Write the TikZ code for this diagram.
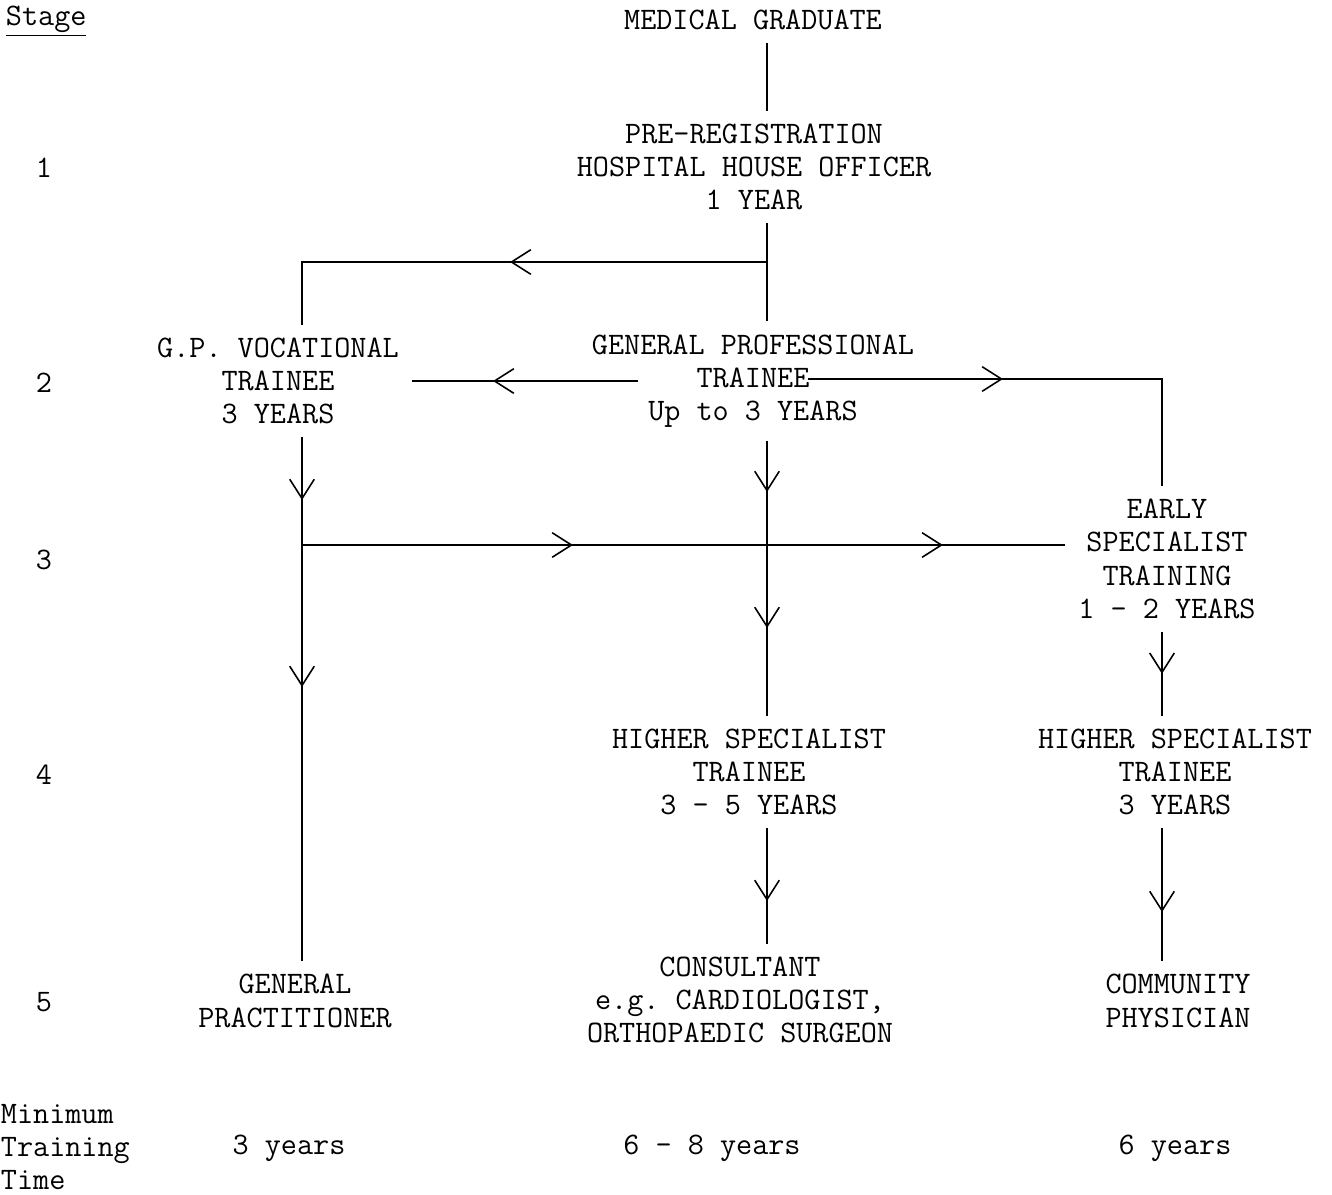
\documentclass[tikz,border=0pt]{standalone}
\usepackage{tikz}
\usetikzlibrary{arrows.meta, positioning, calc, decorations.markings}

\begin{document}
\begin{tikzpicture}[x=0.02cm, y=-0.02cm, line width=1.1pt,
    >={Straight Barb[length=11pt, width=14pt, line width=0.9pt]},
    every node/.style={font=\fontsize{17.8}{18.9}\selectfont\ttfamily, inner sep=0pt},
    stagebox/.style={align=center, inner sep=7pt},
    midarrow/.style={postaction={decorate, decoration={markings,
        mark=at position #1 with {\arrow{>}}}}}]
  \useasboundingbox (0,0) rectangle (1332,1194);
  % stage column
  \node[anchor=west] (stagehd) at (5,21) {\underline{Stage}};
  \node (st1) at (44,168) {1};
  \node (st2) at (44,383) {2};
  \node (st3) at (44,560) {3};
  \node (st4) at (44,775) {4};
  \node (st5) at (44,1002) {5};
  \node[anchor=west, align=left] (mintime) at (0,1147)
    {Minimum\\Training\\Time};
  \node (tgp) at (289,1148) {3 years};
  \node (tcons) at (712,1148) {6 - 8 years};
  \node (tcomm) at (1175,1148) {6 years};

  % career stages
  \node[stagebox] (grad) at (753,20) {MEDICAL GRADUATE};
  \node[stagebox] (preg) at (754,167)
    {PRE-REGISTRATION\\HOSPITAL HOUSE OFFICER\\1 YEAR};
  \node[stagebox] (gpvt) at (278,381) {G.P. VOCATIONAL\\TRAINEE\\3 YEARS};
  \node[stagebox] (gpt) at (753,381)
    {GENERAL PROFESSIONAL\\TRAINEE\\Up to 3 YEARS};
  \node[stagebox] (est) at (1167,559)
    {EARLY\\SPECIALIST\\TRAINING\\1 - 2 YEARS};
  \node[stagebox] (hst1) at (749,772) {HIGHER SPECIALIST\\TRAINEE\\3 - 5 YEARS};
  \node[stagebox] (hst2) at (1175,772) {HIGHER SPECIALIST\\TRAINEE\\3 YEARS};
  \node[stagebox] (gp) at (295,1001) {GENERAL\\PRACTITIONER};
  \node[stagebox] (cons) at (740,1000)
    {CONSULTANT\\e.g.\ CARDIOLOGIST,\\ORTHOPAEDIC SURGEON};
  \node[stagebox] (comm) at (1178,1001) {COMMUNITY\\PHYSICIAN};

  % junctions
  \coordinate (cx) at (767,0);
  \coordinate (lx) at (302,0);
  \coordinate (rx) at (1162,0);
  \coordinate (j1) at (767,262);
  \coordinate (j3) at (302,545);
  \coordinate (j4) at (767,545);
  \coordinate (gptl) at ($(gpt.center)+(-115,0)$);
  \coordinate (gptr) at ($(gpt.center)+(55,-2)$);

  % routes
  \draw (grad.south -| cx) -- (preg.north -| cx);
  \draw (preg.south -| cx) -- (gpt.north -| cx);
  \draw[midarrow=5.14cm] (j1) -- (j1 -| lx) -- (gpvt.north -| lx);
  \draw[midarrow=2.9cm] (gptl) -- (gpvt.east |- gptl);
  \draw[midarrow=3.9cm] (gptr) -- (gptr -| rx) -- (est.north -| rx);
  \draw[midarrow=5.42cm, midarrow=12.82cm] (j3) -- (est.west |- j3);
  \draw[midarrow=-0.9cm] (gpvt.south -| lx) -- (j3);
  \draw[midarrow=2.84cm] (j3) -- (gp.north -| lx);
  \draw[midarrow=-1.06cm] (gpt.south -| cx) -- (j4);
  \draw[midarrow=1.66cm] (j4) -- (hst1.north -| cx);
  \draw[midarrow=0.5] (est.south -| rx) -- (hst2.north -| rx);
  \draw[midarrow=0.63] (hst1.south -| cx) -- (cons.north -| cx);
  \draw[midarrow=0.63] (hst2.south -| rx) -- (comm.north -| rx);
\end{tikzpicture}
\end{document}
